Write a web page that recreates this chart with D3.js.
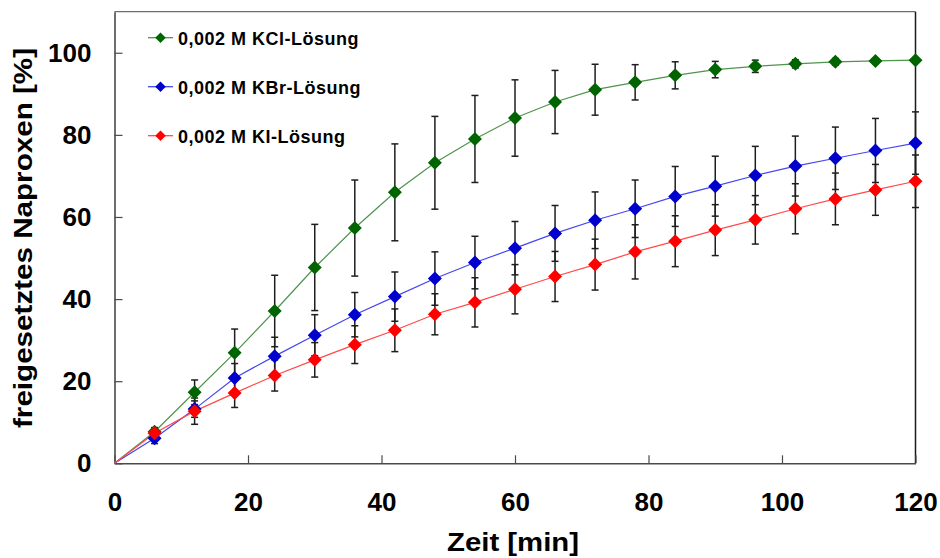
<!DOCTYPE html>
<html>
<head>
<meta charset="utf-8">
<script src="https://cdn.jsdelivr.net/npm/d3@7"></script>
<style>
  html, body { margin: 0; padding: 0; background: #fff; }
  svg { display: block; font-family: "Liberation Sans", Arial, sans-serif; }
</style>
</head>
<body>
<svg id="chart" width="940" height="558"></svg>
<script>
// Release time points [min]; the curves start at the origin
const timeMin = [0, 6, 12, 18, 24, 30, 36, 42, 48, 54, 60, 66, 72, 78, 84, 90, 96, 102, 108, 114, 120];

// Released naproxen [%] and standard deviations per medium
const kclValues = [0, 7.7, 17.3, 26.9, 37.1, 47.7, 57.3, 66.0, 73.2, 79.0, 84.1, 88.0, 91.0, 92.8, 94.5, 95.9, 96.7, 97.3, 97.8, 98.0, 98.2];
const kclErrors = [0, 1.0, 3.0, 5.8, 8.7, 10.5, 11.7, 11.8, 11.3, 10.6, 9.3, 7.7, 6.2, 4.3, 3.3, 2.0, 1.5, 1.0, 0.8, 0.6, 0.5];

const kbrValues = [0, 6.1, 13.2, 20.8, 26.1, 31.2, 36.2, 40.6, 45.0, 48.9, 52.4, 56.0, 59.2, 62.0, 65.0, 67.5, 70.1, 72.4, 74.3, 76.2, 78.0];
const kbrErrors = [0, 1.3, 2.0, 3.5, 4.6, 5.0, 5.4, 6.0, 6.5, 6.4, 6.5, 6.8, 6.9, 7.0, 7.3, 7.3, 7.1, 7.3, 7.6, 7.8, 7.6];

const kiValues = [0, 7.3, 12.7, 17.1, 21.4, 25.2, 28.9, 32.4, 36.3, 39.2, 42.4, 45.5, 48.4, 51.5, 54.1, 56.8, 59.3, 62.0, 64.4, 66.6, 68.7];
const kiErrors = [0, 1.0, 3.2, 3.5, 3.8, 4.2, 4.6, 5.2, 5.0, 6.0, 6.0, 6.1, 6.2, 6.6, 6.2, 6.2, 5.9, 6.1, 6.3, 6.2, 6.4];

const seriesNames = ["0,002 M KCl-Lösung", "0,002 M KBr-Lösung", "0,002 M KI-Lösung"];
const xTicks = [0, 20, 40, 60, 80, 100, 120];
const yTicks = [0, 20, 40, 60, 80, 100];
const xTitle = "Zeit [min]";
const yTitle = "freigesetztes Naproxen [%]";

const series = [
  { name: seriesNames[0], values: kclValues, errors: kclErrors, color: "#006400", line: "#4f934f" },
  { name: seriesNames[1], values: kbrValues, errors: kbrErrors, color: "#0000cc", line: "#4646f0" },
  { name: seriesNames[2], values: kiValues, errors: kiErrors, color: "#ff0000", line: "#ff4a4a" }
];

const svg = d3.select("#chart");
const plot = { left: 114.5, right: 915.5, top: 11.7, bottom: 463.3 };

const x = d3.scaleLinear().domain([0, 120]).range([plot.left, plot.right]);
const y = d3.scaleLinear().domain([0, 110]).range([plot.bottom, plot.top]);

// Frame: top and right edges
svg.append("line")
  .attr("x1", plot.left).attr("x2", plot.right)
  .attr("y1", plot.top).attr("y2", plot.top)
  .attr("stroke", "#6e6e6e").attr("stroke-width", 1.3);
svg.append("line")
  .attr("x1", plot.right).attr("x2", plot.right)
  .attr("y1", plot.top).attr("y2", plot.bottom)
  .attr("stroke", "#1a1a1a").attr("stroke-width", 1.5);

// Axes with inward ticks
const xAxis = d3.axisBottom(x).tickValues(xTicks).tickSizeInner(-8).tickSizeOuter(0).tickPadding(29);
const yAxis = d3.axisLeft(y).tickValues(yTicks).tickSizeInner(-8).tickSizeOuter(0).tickPadding(23);

const gx = svg.append("g").attr("transform", `translate(0,${plot.bottom})`).call(xAxis);
const gy = svg.append("g").attr("transform", `translate(${plot.left},0)`).call(yAxis);

[gx, gy].forEach(g => {
  g.select(".domain").attr("stroke", "#4a4a4a").attr("stroke-width", 1.6);
  g.selectAll(".tick line").attr("stroke", "#4a4a4a").attr("stroke-width", 1.2);
  g.selectAll(".tick text")
    .attr("fill", "#000")
    .style("font-family", "'Liberation Sans', Arial, sans-serif")
    .style("font-weight", "bold")
    .style("font-size", "26px");
});

// Axis titles
svg.append("text")
  .attr("x", 513).attr("y", 551)
  .attr("text-anchor", "middle")
  .attr("textLength", 132).attr("lengthAdjust", "spacingAndGlyphs")
  .style("font-weight", "bold").style("font-size", "26px")
  .text(xTitle);

svg.append("text")
  .attr("transform", "translate(32.3,238) rotate(-90)")
  .attr("text-anchor", "middle")
  .attr("textLength", 380).attr("lengthAdjust", "spacingAndGlyphs")
  .style("font-weight", "bold").style("font-size", "26px")
  .text(yTitle);

// Series lines
const lineGen = d3.line().x((d, i) => x(timeMin[i])).y(d => y(d));
const diamond = d3.symbol().type(d3.symbolSquare).size(98);

series.forEach(s => {
  svg.append("path")
    .datum(s.values)
    .attr("fill", "none")
    .attr("stroke", s.line)
    .attr("stroke-width", 1.2)
    .attr("d", lineGen);
});

// Error bars with caps
series.forEach(s => {
  const pts = s.values.map((v, i) => ({ t: timeMin[i], v, e: s.errors[i] })).filter(p => p.t > 0);
  const g = svg.append("g").attr("stroke", "#1e1e1e").attr("stroke-width", 1.5);
  pts.forEach(p => {
    const x0 = x(p.t), yHi = y(p.v + p.e), yLo = y(p.v - p.e);
    g.append("line").attr("x1", x0).attr("x2", x0).attr("y1", yHi).attr("y2", yLo);
    g.append("line").attr("x1", x0 - 3.5).attr("x2", x0 + 3.5).attr("y1", yHi).attr("y2", yHi);
    g.append("line").attr("x1", x0 - 3.5).attr("x2", x0 + 3.5).attr("y1", yLo).attr("y2", yLo);
  });
});

// Diamond markers
series.forEach(s => {
  const pts = s.values.map((v, i) => ({ t: timeMin[i], v })).filter(p => p.t > 0);
  svg.append("g").selectAll("path")
    .data(pts)
    .join("path")
    .attr("d", diamond)
    .attr("transform", p => `translate(${x(p.t)},${y(p.v)}) rotate(45)`)
    .attr("fill", s.color);
});

// Legend
const legend = svg.append("g");
const legendSymbol = d3.symbol().type(d3.symbolSquare).size(56);
series.forEach((s, i) => {
  const cy = 37.7 + i * 49;
  legend.append("line")
    .attr("x1", 148).attr("x2", 173).attr("y1", cy).attr("y2", cy)
    .attr("stroke", s.line).attr("stroke-width", 1.3);
  legend.append("path")
    .attr("d", legendSymbol)
    .attr("transform", `translate(160.5,${cy}) rotate(45)`)
    .attr("fill", s.color);
  legend.append("text")
    .attr("x", 178).attr("y", cy + 7)
    .style("font-weight", "bold").style("font-size", "18px")
    .style("letter-spacing", "0.5px")
    .text(s.name);
});
</script>
</body>
</html>
